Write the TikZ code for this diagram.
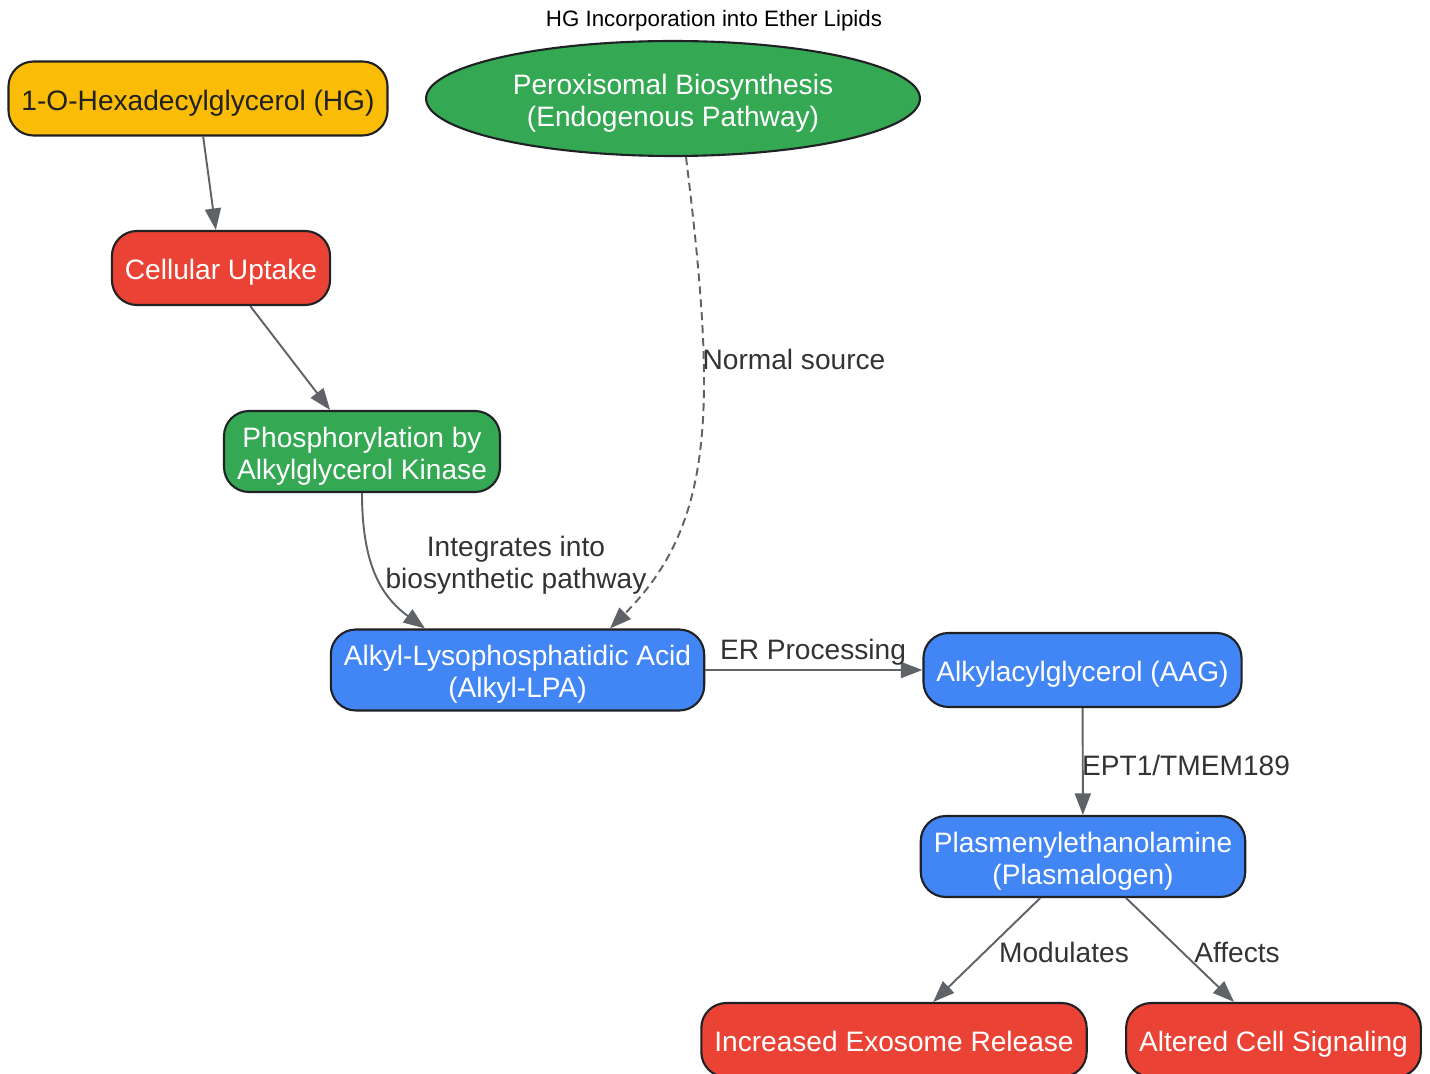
\documentclass[tikz,border=0pt]{standalone}
\usepackage{fontspec}
\setmainfont{Liberation Sans}
\usepackage{xcolor}
\usetikzlibrary{shapes.geometric,arrows.meta,calc}
\definecolor{lipyellow}{HTML}{FBBC05}
\definecolor{lipred}{HTML}{EA4335}
\definecolor{lipgreen}{HTML}{34A853}
\definecolor{lipblue}{HTML}{4285F4}
\definecolor{lipborder}{HTML}{202124}
\definecolor{lipgray}{HTML}{5F6368}
\definecolor{liptext}{HTML}{333333}

\begin{document}
\begin{tikzpicture}[x=0.02cm,y=-0.02cm]
    \tikzset{
    lip node/.style={draw=lipborder,line width=1.2pt,rounded corners=0.5cm,minimum height=1.48cm,inner xsep=0.26cm,align=center,text=white,text height=13.2pt,text depth=0pt,font=\fontsize{16}{18.2}\selectfont},
    lip two/.style={minimum height=1.62cm,text height=31.4pt,text depth=0pt},
    lip ellipse/.style={ellipse,draw=lipborder,line width=1.2pt,fill=lipgreen,minimum width=9.88cm,minimum height=2.3cm,inner sep=0,align=center,text=white,text height=31.4pt,text depth=0pt,font=\fontsize{16}{18.2}\selectfont},
    lip edge/.style={draw=lipgray,line width=1.1pt,-{Triangle[length=0.43cm,width=0.32cm]}},
    lip label/.style={text=liptext,align=center,font=\fontsize{16}{18.2}\selectfont}
    }
    \useasboundingbox (0,0) rectangle (1430,1074);
    \clip (0,0) rectangle (1430,1074);

    \node[font=\fontsize{12.7}{15}\selectfont] (title) at (714,21) {HG Incorporation into Ether Lipids};

    \node[lip node,fill=lipyellow,text=lipborder] (hg) at (198,98.5) {1-O-Hexadecylglycerol (HG)};
    \node[lip ellipse] (perox) at (673,98.5) {Peroxisomal Biosynthesis\\(Endogenous Pathway)};
    \node[lip node,fill=lipred] (uptake) at (221,268) {Cellular Uptake};
    \node[lip node,lip two,fill=lipgreen] (phospho) at (362,451.5) {Phosphorylation by\\Alkylglycerol Kinase};
    \node[lip node,lip two,fill=lipblue] (lpa) at (517.5,670) {Alkyl-Lysophosphatidic Acid\\(Alkyl-LPA)};
    \node[lip node,fill=lipblue] (aag) at (1082.5,670) {Alkylacylglycerol (AAG)};
    \node[lip node,lip two,fill=lipblue] (plasm) at (1083,856.5) {Plasmenylethanolamine\\(Plasmalogen)};
    \node[lip node,fill=lipred] (exo) at (894,1040) {Increased Exosome Release};
    \node[lip node,fill=lipred] (signal) at (1273.5,1040) {Altered Cell Signaling};

    % connectors
    \draw[lip edge] (hg) -- (uptake);
    \draw[lip edge] (uptake) -- (phospho);
    \draw[lip edge] (phospho.south) to[out=-90,in=144,out looseness=1.2,in looseness=0.95] ($(lpa.north)+(-92.5,0)$);
    \draw[lip edge,dash pattern=on 0.16cm off 0.1cm] ($(perox.south)+(13,0)$) to[out=-83,in=45,out looseness=1.34,in looseness=0.8] ($(lpa.north)+(92.5,0)$);
    \draw[lip edge] (lpa) -- (aag);
    \draw[lip edge] (aag) -- (plasm);
    \draw[lip edge] (plasm) -- (exo);
    \draw[lip edge] (plasm) -- (signal);

    % edge labels
    \node[lip label] (l-integrates) at (516,565) {Integrates into\\biosynthetic pathway};
    \node[lip label] (l-normal) at (794,359) {Normal source};
    \node[lip label] (l-er) at (813,652) {ER Processing};
    \node[lip label] (l-ept) at (1186,765) {EPT1/TMEM189};
    \node[lip label] (l-mod) at (1064,952) {Modulates};
    \node[lip label] (l-aff) at (1237,952) {Affects};
\end{tikzpicture}
\end{document}
